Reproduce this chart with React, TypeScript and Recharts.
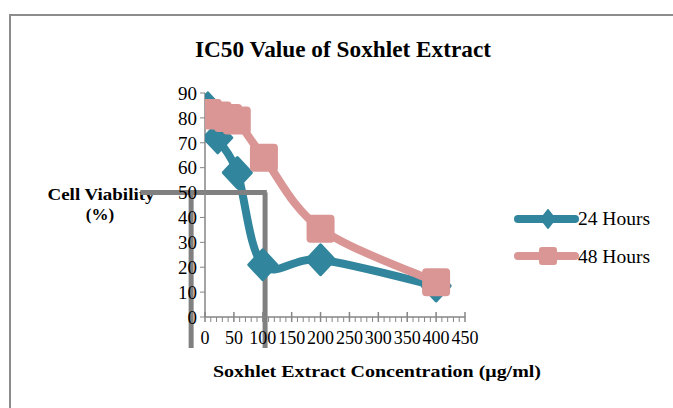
import { LineChart, Line, XAxis, YAxis, ReferenceLine } from 'recharts'

// concentrations (µg/ml) and viability (%)
const conc24 = [5, 22, 56, 100, 200, 400]
const viab24 = [84, 72, 58, 21, 23, 12.5]
const conc48 = [5, 22, 40, 55, 102, 200, 400]
const viab48 = [82, 81, 80, 79, 64, 35.5, 14]

const xTicks = [0, 10, 20, 30, 40, 50, 60, 70, 80, 90, 100, 110, 120, 130, 140, 150, 160, 170, 180, 190, 200,
  210, 220, 230, 240, 250, 260, 270, 280, 290, 300, 310, 320, 330, 340, 350, 360, 370, 380, 390, 400, 410, 420, 430, 440, 450]
const yTicks = [0, 10, 20, 30, 40, 50, 60, 70, 80, 90]

// IC50 guide drawn over the chart (data units)
const guideH = [{ x: -112, y: 50 }, { x: 107, y: 50 }]
const guideV1 = [{ x: -24, y: 50 }, { x: -24, y: -12.5 }]
const guideV2 = [{ x: 104, y: 50 }, { x: 104, y: -12.5 }]

const BLUE = '#31859c'
const PINK = '#d99694'
const GREY = '#808080'
const FONT = '"Liberation Serif", serif'

const data24 = conc24.map((x, i) => ({ x, y: viab24[i] }))
const data48 = conc48.map((x, i) => ({ x, y: viab48[i] }))

// Excel-style smoothed line (Catmull-Rom through the points)
const smooth = (ctx: any) => {
  let pts: number[][] = []
  return {
    areaStart() {},
    areaEnd() {},
    lineStart() {
      pts = []
    },
    point(x: number, y: number) {
      pts.push([+x, +y])
    },
    lineEnd() {
      const n = pts.length
      if (!n) return
      ctx.moveTo(pts[0][0], pts[0][1])
      for (let i = 0; i < n - 1; i++) {
        const p0 = pts[Math.max(i - 1, 0)]
        const p1 = pts[i]
        const p2 = pts[i + 1]
        const p3 = pts[Math.min(i + 2, n - 1)]
        ctx.bezierCurveTo(
          p1[0] + (p2[0] - p0[0]) / 6,
          p1[1] + (p2[1] - p0[1]) / 6,
          p2[0] - (p3[0] - p1[0]) / 6,
          p2[1] - (p3[1] - p1[1]) / 6,
          p2[0],
          p2[1]
        )
      }
    }
  }
}

const Diamond = (props: any) => {
  const { cx, cy } = props
  if (cx == null || cy == null) return null
  return (
    <path
      d={`M${cx},${cy - 15} L${cx + 14},${cy} L${cx},${cy + 15} L${cx - 14},${cy} Z`}
      fill={BLUE}
      stroke={BLUE}
      strokeWidth={3}
      strokeLinejoin="round"
    />
  )
}

const Square = (props: any) => {
  const { cx, cy } = props
  if (cx == null || cy == null) return null
  return <rect x={cx - 14} y={cy - 14} width={28} height={28} rx={4} fill={PINK} />
}

const XTick = (props: any) => {
  const { x, y, payload } = props
  const major = payload.value % 50 === 0
  return (
    <g>
      <line x1={x} x2={x} y1={major ? y - 5 : y} y2={y + 5} stroke="#868686" strokeWidth={major ? 1.5 : 1} />
      {major && (
        <text x={x} y={y + 27} textAnchor="middle" fontSize={18} fontFamily={FONT} fill="#000">
          {payload.value}
        </text>
      )}
    </g>
  )
}

export default function App() {
  return (
    <div style={{ position: 'absolute', left: 0, top: 0, width: 673, height: 408, overflow: 'hidden', background: '#fff' }}>
      <div style={{ position: 'absolute', left: 9, top: 14, width: 720, height: 500, border: '2px solid #8c8c8c' }} />
      <svg width={673} height={408} style={{ position: 'absolute', left: 0, top: 0 }}>
        <text x={343} y={57} textAnchor="middle" fontSize={23} fontWeight="bold" fontFamily={FONT} textLength={296} lengthAdjust="spacingAndGlyphs">
          IC50 Value of Soxhlet Extract
        </text>
        <text x={101} y={200} textAnchor="middle" fontSize={17} fontWeight="bold" fontFamily={FONT} textLength={107} lengthAdjust="spacingAndGlyphs">
          Cell Viability
        </text>
        <text x={100} y={220} textAnchor="middle" fontSize={17} fontWeight="bold" fontFamily={FONT}>
          (%)
        </text>
        <text x={377} y={377} textAnchor="middle" fontSize={17} fontWeight="bold" fontFamily={FONT} textLength={328} lengthAdjust="spacingAndGlyphs">
          Soxhlet Extract Concentration (μg/ml)
        </text>
        <line x1={518} x2={575} y1={219} y2={219} stroke={BLUE} strokeWidth={8} strokeLinecap="round" />
        <path d="M548,210 L555,219 L548,228 L541,219 Z" fill={BLUE} stroke={BLUE} strokeWidth={2} strokeLinejoin="round" />
        <text x={578} y={225} fontSize={18} fontFamily={FONT} textLength={72} lengthAdjust="spacingAndGlyphs">
          24 Hours
        </text>
        <line x1={518} x2={575} y1={256} y2={256} stroke={PINK} strokeWidth={8} strokeLinecap="round" />
        <rect x={539} y={247} width={18} height={18} rx={3} fill={PINK} />
        <text x={578} y={263} fontSize={18} fontFamily={FONT} textLength={72} lengthAdjust="spacingAndGlyphs">
          48 Hours
        </text>
      </svg>
      <div style={{ position: 'absolute', left: 0, top: 0 }}>
        <LineChart width={673} height={408} margin={{ top: 93, right: 208, bottom: 61, left: 145 }}>
          <XAxis
            dataKey="x"
            type="number"
            domain={[0, 450]}
            ticks={xTicks}
            interval={0}
            height={30}
            tickSize={0}
            tickMargin={0}
            tickLine={false}
            tick={<XTick />}
            axisLine={{ stroke: '#868686', strokeWidth: 1.5 }}
            allowDataOverflow
          />
          <YAxis
            type="number"
            domain={[0, 90]}
            ticks={yTicks}
            interval={0}
            width={60}
            tickSize={5}
            tickMargin={3}
            tickLine={{ stroke: '#868686' }}
            axisLine={{ stroke: '#868686', strokeWidth: 1.5 }}
            tick={{ fontSize: 19, fontFamily: FONT, fill: '#000' }}
          />
          <Line
            data={data24}
            dataKey="y"
            type={smooth as any}
            stroke={BLUE}
            strokeWidth={8}
            dot={<Diamond />}
            activeDot={false}
            isAnimationActive={false}
          />
          <Line
            data={data48}
            dataKey="y"
            type={smooth as any}
            stroke={PINK}
            strokeWidth={8}
            dot={<Square />}
            activeDot={false}
            isAnimationActive={false}
          />
          <ReferenceLine segment={guideH} ifOverflow="visible" stroke={GREY} strokeWidth={5} />
          <ReferenceLine segment={guideV1} ifOverflow="visible" stroke={GREY} strokeWidth={5} />
          <ReferenceLine segment={guideV2} ifOverflow="visible" stroke={GREY} strokeWidth={5} />
        </LineChart>
      </div>
    </div>
  )
}
